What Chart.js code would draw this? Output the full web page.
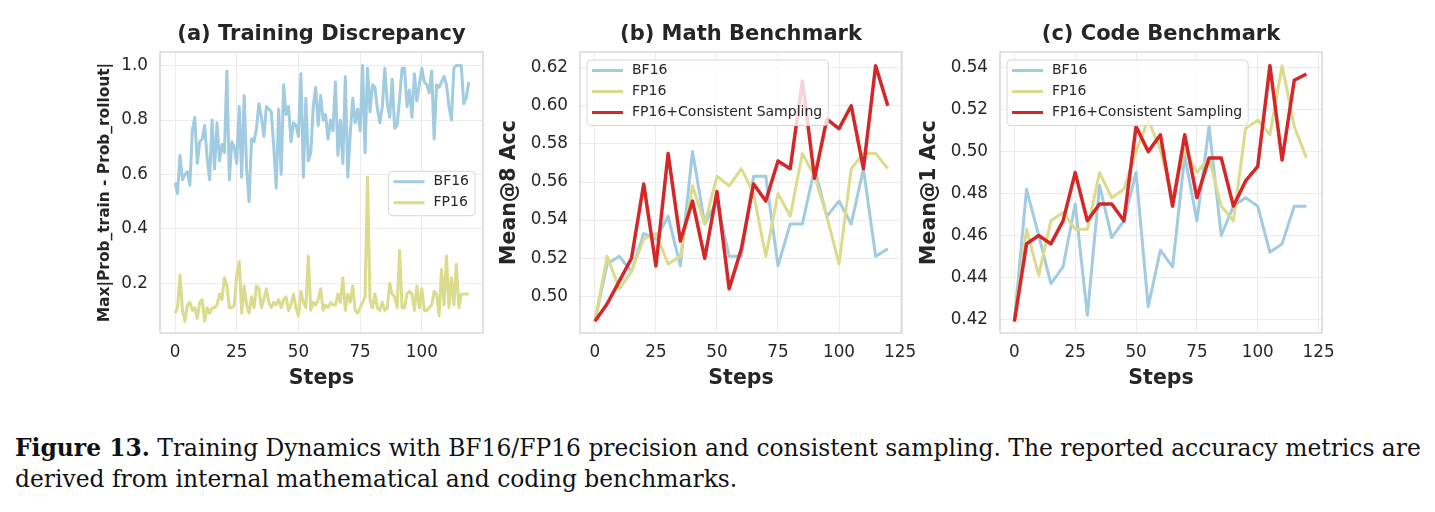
<!DOCTYPE html>
<html lang="en">
<head>
<meta charset="UTF-8">
<title>Figure 13</title>
<script src="https://cdn.jsdelivr.net/npm/chart.js@4"></script>
<style>
  body { margin: 0; background: #fff; }
  #fig { position: relative; width: 1435px; height: 512px; overflow: hidden; }
  canvas { position: absolute; top: 0; }
  #caption { position: absolute; left: 15px; top: 433px; font-family: "DejaVu Serif", serif;
             font-size: 23.4px; line-height: 31px; color: #111; white-space: nowrap; }
</style>
</head>
<body>
<div id="fig">
  <canvas id="chartA" width="443" height="410" style="left:60px"></canvas>
  <canvas id="chartB" width="450" height="410" style="left:480px"></canvas>
  <canvas id="chartC" width="452" height="410" style="left:900px"></canvas>
  <div id="caption"><b>Figure 13.</b> Training Dynamics with BF16/FP16 precision and consistent sampling. The reported accuracy metrics are<br>derived from internal mathematical and coding benchmarks.</div>
</div>
<script>
// (a) Training discrepancy, one point per step
const stepsA = [
  0, 1, 2, 3, 4, 5, 6, 7, 8, 9, 10, 11, 12, 13, 14, 15, 16, 17, 18, 19,
  20, 21, 22, 23, 24, 25, 26, 27, 28, 29, 30, 31, 32, 33, 34, 35, 36, 37, 38, 39,
  40, 41, 42, 43, 44, 45, 46, 47, 48, 49, 50, 51, 52, 53, 54, 55, 56, 57, 58, 59,
  60, 61, 62, 63, 64, 65, 66, 67, 68, 69, 70, 71, 72, 73, 74, 75, 76, 77, 78, 79,
  80, 81, 82, 83, 84, 85, 86, 87, 88, 89, 90, 91, 92, 93, 94, 95, 96, 97, 98, 99,
  100, 101, 102, 103, 104, 105, 106, 107, 108, 109, 110, 111, 112, 113, 114, 115, 116, 117, 118, 119]
const bf16A = [
  0.57, 0.53, 0.67, 0.58, 0.60, 0.61, 0.56, 0.76, 0.81, 0.64,
  0.72, 0.73, 0.78, 0.66, 0.58, 0.80, 0.62, 0.79, 0.65, 0.71,
  0.68, 0.98, 0.58, 0.72, 0.70, 0.64, 0.85, 0.59, 0.89, 0.62,
  0.50, 0.73, 0.72, 0.77, 0.86, 0.81, 0.74, 0.85, 0.84, 0.83,
  0.70, 0.55, 0.84, 0.60, 0.93, 0.82, 0.85, 0.72, 0.79, 0.78,
  0.74, 0.97, 0.59, 0.88, 0.65, 0.68, 0.85, 0.92, 0.78, 0.89,
  0.80, 0.82, 0.73, 0.80, 0.76, 0.94, 0.67, 0.80, 0.64, 0.96,
  0.59, 0.75, 0.88, 0.79, 0.84, 0.76, 1.00, 0.68, 0.99, 0.83,
  0.93, 0.92, 0.84, 0.79, 0.85, 0.99, 0.86, 0.81, 0.95, 0.77,
  0.78, 0.88, 0.99, 0.99, 0.85, 0.91, 0.81, 0.97, 0.87, 0.93,
  0.99, 0.94, 0.93, 0.90, 0.98, 0.73, 0.93, 0.92, 0.94, 0.96,
  0.93, 0.85, 0.80, 0.99, 1.00, 1.00, 1.00, 0.86, 0.88, 0.94]
const fp16A = [
  0.09, 0.11, 0.23, 0.10, 0.06, 0.12, 0.13, 0.10, 0.11, 0.07,
  0.13, 0.14, 0.06, 0.11, 0.09, 0.11, 0.11, 0.12, 0.16, 0.14,
  0.22, 0.19, 0.11, 0.11, 0.12, 0.23, 0.28, 0.09, 0.19, 0.12,
  0.09, 0.15, 0.11, 0.19, 0.18, 0.11, 0.14, 0.18, 0.13, 0.11,
  0.13, 0.12, 0.14, 0.11, 0.14, 0.15, 0.10, 0.12, 0.16, 0.11,
  0.08, 0.17, 0.13, 0.11, 0.30, 0.10, 0.13, 0.12, 0.14, 0.18,
  0.10, 0.12, 0.11, 0.13, 0.12, 0.12, 0.16, 0.13, 0.22, 0.10,
  0.16, 0.13, 0.19, 0.10, 0.09, 0.11, 0.13, 0.15, 0.59, 0.14,
  0.11, 0.16, 0.11, 0.10, 0.13, 0.10, 0.11, 0.20, 0.16, 0.15,
  0.11, 0.32, 0.11, 0.11, 0.16, 0.17, 0.16, 0.10, 0.19, 0.11,
  0.18, 0.10, 0.10, 0.11, 0.12, 0.17, 0.16, 0.08, 0.25, 0.12,
  0.30, 0.11, 0.22, 0.12, 0.27, 0.11, 0.16, 0.16, 0.16, 0.16]

// (b) and (c) benchmarks, evaluated every 5 steps
const stepsBC = [0, 5, 10, 15, 20, 25, 30, 35, 40, 45, 50, 55, 60, 65, 70, 75, 80, 85, 90, 95, 100, 105, 110, 115, 120]
const bf16B   = [0.487, 0.517, 0.521, 0.513, 0.533, 0.530, 0.542, 0.516, 0.576, 0.538, 0.550, 0.521, 0.521,
                 0.563, 0.563, 0.516, 0.538, 0.538, 0.567, 0.542, 0.550, 0.538, 0.567, 0.521, 0.525]
const fp16B   = [0.487, 0.521, 0.504, 0.513, 0.530, 0.533, 0.517, 0.521, 0.558, 0.538, 0.563, 0.558, 0.567,
                 0.554, 0.521, 0.554, 0.542, 0.575, 0.563, 0.542, 0.517, 0.567, 0.575, 0.575, 0.567]
const fp16csB = [0.487, 0.496, 0.508, 0.520, 0.559, 0.516, 0.575, 0.529, 0.550, 0.520, 0.555, 0.504, 0.525,
                 0.559, 0.550, 0.571, 0.567, 0.613, 0.562, 0.593, 0.588, 0.600, 0.567, 0.621, 0.600]
const bf16C   = [0.419, 0.482, 0.460, 0.437, 0.445, 0.475, 0.422, 0.484, 0.459, 0.467, 0.490, 0.426, 0.453,
                 0.445, 0.498, 0.467, 0.512, 0.460, 0.474, 0.478, 0.474, 0.452, 0.456, 0.474, 0.474]
const fp16C   = [0.419, 0.463, 0.441, 0.467, 0.471, 0.463, 0.463, 0.490, 0.478, 0.482, 0.500, 0.515, 0.501,
                 0.478, 0.501, 0.490, 0.497, 0.474, 0.467, 0.511, 0.515, 0.508, 0.541, 0.512, 0.497]
const fp16csC = [0.419, 0.456, 0.460, 0.456, 0.467, 0.490, 0.467, 0.475, 0.475, 0.467, 0.512, 0.500, 0.508,
                 0.474, 0.508, 0.478, 0.497, 0.497, 0.474, 0.486, 0.493, 0.541, 0.496, 0.534, 0.537]

const xTicksA  = [0, 25, 50, 75, 100]
const xTicksBC = [0, 25, 50, 75, 100, 125]
const yTicksA  = [0.2, 0.4, 0.6, 0.8, 1.0]
const yTicksB  = [0.50, 0.52, 0.54, 0.56, 0.58, 0.60, 0.62]
const yTicksC  = [0.42, 0.44, 0.46, 0.48, 0.50, 0.52, 0.54]

const BLUE = 'rgb(160, 203, 225)'
const YELLOW = 'rgb(219, 219, 141)'
const RED = 'rgb(214, 39, 40)'
const INK = '#262626'
const FONT = '"DejaVu Sans", sans-serif'

const series = (label, xs, ys, color, order, width) => ({
  label,
  data: xs.map((x, i) => ({ x, y: ys[i] })),
  borderColor: color,
  backgroundColor: color,
  borderWidth: width,
  borderJoinStyle: 'round',
  pointRadius: 0,
  tension: 0,
  order,
})

// light grey box round the plot area, like the seaborn whitegrid spines
const frameBox = {
  id: 'frameBox',
  afterDatasetsDraw(chart) {
    const { ctx, chartArea: a } = chart
    ctx.save()
    ctx.strokeStyle = '#cfcfcf'
    ctx.lineWidth = 1.25
    ctx.strokeRect(a.left, a.top, a.right - a.left, a.bottom - a.top)
    ctx.restore()
  }
}

// matplotlib-style legend drawn inside the axes with a translucent frame
const insideLegend = {
  id: 'insideLegend',
  afterDatasetsDraw(chart, args, opts) {
    const { ctx, chartArea: a } = chart
    const items = chart.data.datasets
    ctx.save()
    ctx.font = '14px ' + FONT
    const textW = Math.max(...items.map(d => ctx.measureText(d.label).width))
    const w = 5 + 31 + 9 + textW + 6
    const h = 10.5 + 21 * (items.length - 1) + 13
    let x, y
    if (opts.loc === 'upper left') { x = a.left + 7; y = a.top + 8 }
    else { x = a.right - 8 - w; y = (a.top + a.bottom) / 2 - h / 2 + 1 }
    ctx.beginPath()
    ctx.roundRect(x, y, w, h, 4)
    ctx.fillStyle = 'rgba(255, 255, 255, 0.8)'
    ctx.fill()
    ctx.strokeStyle = '#d6d6d6'
    ctx.lineWidth = 1
    ctx.stroke()
    items.forEach((d, i) => {
      const cy = y + 10.5 + 21 * i
      ctx.beginPath()
      ctx.moveTo(x + 5, cy)
      ctx.lineTo(x + 36, cy)
      ctx.strokeStyle = d.borderColor
      ctx.lineWidth = 3
      ctx.stroke()
      ctx.fillStyle = INK
      ctx.textBaseline = 'middle'
      ctx.fillText(d.label, x + 45, cy)
    })
    ctx.restore()
  }
}

function makeChart(id, datasets, o) {
  const tickFont = { family: FONT, size: 16.8 }
  return new Chart(document.getElementById(id), {
    type: 'line',
    data: { datasets },
    options: {
      responsive: false,
      animation: false,
      devicePixelRatio: 1,
      layout: { padding: { right: o.padRight } },
      plugins: {
        legend: { display: false },
        tooltip: { enabled: false },
        title: {
          display: true, text: o.title, fullSize: false, color: INK,
          font: { family: FONT, size: 21, weight: 'bold' },
          padding: { top: 22.4, bottom: 4.4 }
        },
        insideLegend: { loc: o.legendLoc }
      },
      scales: {
        x: {
          type: 'linear', min: o.xMin, max: o.xMax,
          afterBuildTicks: s => { s.ticks = o.xTicks.map(v => ({ value: v })) },
          afterFit: s => { s.height = 77 },
          grid: { color: '#ebebeb', drawTicks: false },
          border: { display: false },
          ticks: { padding: 10, color: INK, font: tickFont, maxRotation: 0 },
          title: {
            display: true, text: 'Steps', color: INK,
            font: { family: FONT, size: 20.5, weight: 'bold' },
            padding: { top: 0, bottom: 19 }
          }
        },
        y: {
          min: o.yMin, max: o.yMax,
          afterBuildTicks: s => { s.ticks = o.yTicks.map(v => ({ value: v })) },
          afterFit: s => { s.width = 100 },
          grid: { color: '#ebebeb', drawTicks: false },
          border: { display: false },
          ticks: { padding: 12, color: INK, font: tickFont, callback: v => v.toFixed(o.yDec) },
          title: {
            display: true, text: o.yLabel, color: INK,
            font: { family: FONT, size: o.yLabelSize, weight: 'bold' },
            padding: { top: o.yTitlePad, bottom: 0 }
          }
        }
      }
    },
    plugins: [frameBox, insideLegend]
  })
}

makeChart('chartA', [
  series('BF16', stepsA, bf16A, BLUE, 2, 3),
  series('FP16', stepsA, fp16A, YELLOW, 1, 3),
], {
  title: '(a) Training Discrepancy', legendLoc: 'center right', padRight: 20,
  xMin: -6.1, xMax: 124.8, xTicks: xTicksA,
  yMin: 0.017, yMax: 1.05, yTicks: yTicksA, yDec: 1,
  yLabel: 'Max|Prob_train - Prob_rollout|', yLabelSize: 15.4, yTitlePad: 36,
})

makeChart('chartB', [
  series('BF16', stepsBC, bf16B, BLUE, 3, 3),
  series('FP16', stepsBC, fp16B, YELLOW, 2, 3),
  series('FP16+Consistent Sampling', stepsBC, fp16csB, RED, 1, 3.5),
], {
  title: '(b) Math Benchmark', legendLoc: 'upper left', padRight: 28,
  xMin: -6.1, xMax: 125.8, xTicks: xTicksBC,
  yMin: 0.4808, yMax: 0.6282, yTicks: yTicksB, yDec: 2,
  yLabel: 'Mean@8 Acc', yLabelSize: 20.5, yTitlePad: 17.7,
})

makeChart('chartC', [
  series('BF16', stepsBC, bf16C, BLUE, 3, 3),
  series('FP16', stepsBC, fp16C, YELLOW, 2, 3),
  series('FP16+Consistent Sampling', stepsBC, fp16csC, RED, 1, 3.5),
], {
  title: '(c) Code Benchmark', legendLoc: 'upper left', padRight: 30,
  xMin: -5.9, xMax: 126.4, xTicks: xTicksBC,
  yMin: 0.4135, yMax: 0.5475, yTicks: yTicksC, yDec: 2,
  yLabel: 'Mean@1 Acc', yLabelSize: 20.5, yTitlePad: 17.7,
})
</script>
</body>
</html>
